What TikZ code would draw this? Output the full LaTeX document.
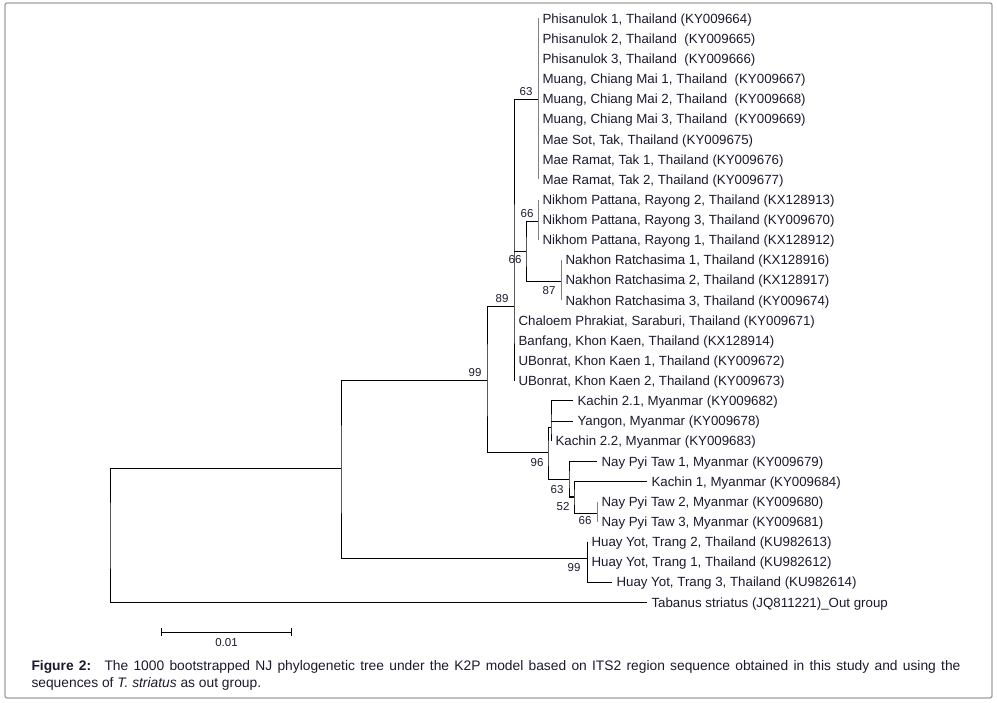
\documentclass[tikz,border=0pt]{standalone}
\usepackage{fontspec}
\setmainfont{Liberation Sans}
\usepackage{tikz}
\usetikzlibrary{positioning, arrows.meta}
\usepackage{color,xcolor}
\definecolor{txt}{RGB}{26,26,46}
\definecolor{zero}{RGB}{128,128,128}
\definecolor{frame}{RGB}{160,160,160}

\begin{document}
\begin{tikzpicture}[x=1pt, y=-1pt, line width=1pt,
  leaf/.style={anchor=west, inner xsep=4pt, inner ysep=0pt, text height=9.5pt, text depth=0pt, text=txt, font=\fontsize{13.3}{14}\selectfont},
  bs/.style={inner sep=0pt, text=txt, font=\fontsize{11.5}{12}\selectfont},
  zbr/.style={zero}]
  \useasboundingbox (0,0) rectangle (997,703);
  \draw[frame, line width=1.3pt, rounded corners=2pt] (5,3) rectangle (992,698);

  \node[leaf] (p1)  at (538,18.5)  {Phisanulok 1, Thailand (KY009664)};
  \node[leaf] (p2)  at (538,38.6)  {Phisanulok 2, Thailand~ (KY009665)};
  \node[leaf] (p3)  at (538,58.8)  {Phisanulok 3, Thailand~ (KY009666)};
  \node[leaf] (cm1) at (538,78.9)  {Muang, Chiang Mai 1, Thailand~ (KY009667)};
  \node[leaf] (cm2) at (538,99.0)  {Muang, Chiang Mai 2, Thailand~ (KY009668)};
  \node[leaf] (cm3) at (538,119.2) {Muang, Chiang Mai 3, Thailand~ (KY009669)};
  \node[leaf] (ms)  at (538,139.3) {Mae Sot, Tak, Thailand (KY009675)};
  \node[leaf] (mr1) at (538,159.4) {Mae Ramat, Tak 1, Thailand (KY009676)};
  \node[leaf] (mr2) at (538,179.5) {Mae Ramat, Tak 2, Thailand (KY009677)};
  \node[leaf] (nk2) at (538,199.7) {Nikhom Pattana, Rayong 2, Thailand (KX128913)};
  \node[leaf] (nk3) at (538,219.8) {Nikhom Pattana, Rayong 3, Thailand (KY009670)};
  \node[leaf] (nk1) at (538,239.9) {Nikhom Pattana, Rayong 1, Thailand (KX128912)};
  \node[leaf] (nr1) at (561,260.1) {Nakhon Ratchasima 1, Thailand (KX128916)};
  \node[leaf] (nr2) at (561,280.2) {Nakhon Ratchasima 2, Thailand (KX128917)};
  \node[leaf] (nr3) at (561,300.3) {Nakhon Ratchasima 3, Thailand (KY009674)};
  \node[leaf] (ch)  at (514,320.5) {Chaloem Phrakiat, Saraburi, Thailand (KY009671)};
  \node[leaf] (bf)  at (514,340.6) {Banfang, Khon Kaen, Thailand (KX128914)};
  \node[leaf] (ub1) at (514,360.7) {UBonrat, Khon Kaen 1, Thailand (KY009672)};
  \node[leaf] (ub2) at (514,380.8) {UBonrat, Khon Kaen 2, Thailand (KY009673)};
  \node[leaf] (k21) at (573,401.0) {Kachin 2.1, Myanmar (KY009682)};
  \node[leaf] (yg)  at (573,421.1) {Yangon, Myanmar (KY009678)};
  \node[leaf] (k22) at (551,441.2) {Kachin 2.2, Myanmar (KY009683)};
  \node[leaf] (np1) at (597,461.4) {Nay Pyi Taw 1, Myanmar (KY009679)};
  \node[leaf] (kc1) at (647,481.5) {Kachin 1, Myanmar (KY009684)};
  \node[leaf] (np2) at (597,501.6) {Nay Pyi Taw 2, Myanmar (KY009680)};
  \node[leaf] (np3) at (597,521.8) {Nay Pyi Taw 3, Myanmar (KY009681)};
  \node[leaf] (hy2) at (587,541.9) {Huay Yot, Trang 2, Thailand (KU982613)};
  \node[leaf] (hy1) at (587,562.0) {Huay Yot, Trang 1, Thailand (KU982612)};
  \node[leaf] (hy3) at (612,582.1) {Huay Yot, Trang 3, Thailand (KU982614)};
  \node[leaf] (tab) at (647,602.3) {Tabanus striatus (JQ811221)\_Out group};

  \coordinate (root) at (110,536);
  \coordinate (nA) at (341,469);
  \coordinate (nB) at (487,380.8);
  \coordinate (nC) at (514,307);
  \coordinate (nD) at (538,100);
  \coordinate (nE) at (526,252);
  \coordinate (nF) at (538,222);
  \coordinate (nG) at (561,282);
  \coordinate (nH) at (548,453);
  \coordinate (nI) at (551,428);
  \coordinate (nJ) at (569,480);
  \coordinate (nK) at (574,497);
  \coordinate (nL) at (597,513);
  \coordinate (nM) at (587,558);

  \draw (nA) -| (root) |- (tab.west);
  \draw (nB) -| (nA) |- (nM);
  \draw (nC) -| (nB) |- (nH);
  \draw (nD) -| (nC) -- (ub2.west);
  \draw (nC |- nE) -- (nE);
  \draw[zbr] (p1.west) -- (mr2.west);
  \draw (nF) -| (nE) |- (nG);
  \draw[zbr] (nk2.west) -- (nk1.west);
  \draw[zbr] (nr1.west) -- (nr3.west);
  \draw (nI) -| (nH) |- (nJ);
  \draw (k21.west) -| (nI) -- (k22.west);
  \draw (nI |- yg) -- (yg.west);
  \draw (np1.west) -| (nJ) |- (nK);
  \draw (kc1.west) -| (nK) |- (nL);
  \draw[zbr] (np2.west) -- (np3.west);
  \draw (hy2.west) |- (hy3.west);

  \node[bs, above left=4pt and 5pt of nB] (b99a) {99};
  \node[bs, above left=4pt and 5pt of nC] (b89)  {89};
  \node[bs, above left=4pt and 5pt of nD] (b63a) {63};
  \node[bs, above left=4pt and 4pt of nF] (b66a) {66};
  \node[bs, below left=3pt and 4pt of nE] (b66b) {66};
  \node[bs, below left=4pt and 5pt of nG] (b87)  {87};
  \node[bs, below left=5pt and 4pt of nH] (b96)  {96};
  \node[bs, below left=5pt and 5pt of nJ] (b63b) {63};
  \node[bs, below left=5pt and 4pt of nK] (b52)  {52};
  \node[bs, below left=3pt and 5pt of nL] (b66c) {66};
  \node[bs, below left=5pt and 6pt of nM] (b99b) {99};

  \coordinate (sbl) at (161,632);
  \coordinate (sbr) at (292,632);
  \draw[{Bar[width=8pt]}-{Bar[width=8pt]}] (sbl) -- node[bs, below=6pt] (sbt) {0.01} (sbr);

  \node[anchor=north west, inner sep=0pt, text width=929pt, align=justify, text=txt,
        font=\fontsize{13.8}{17}\selectfont] (cap) at (31,660)
    {\textbf{Figure 2:}~ The 1000 bootstrapped NJ phylogenetic tree under the K2P model based on ITS2 region sequence obtained in this study and using the sequences of \textit{T. striatus} as out group.};
\end{tikzpicture}
\end{document}
